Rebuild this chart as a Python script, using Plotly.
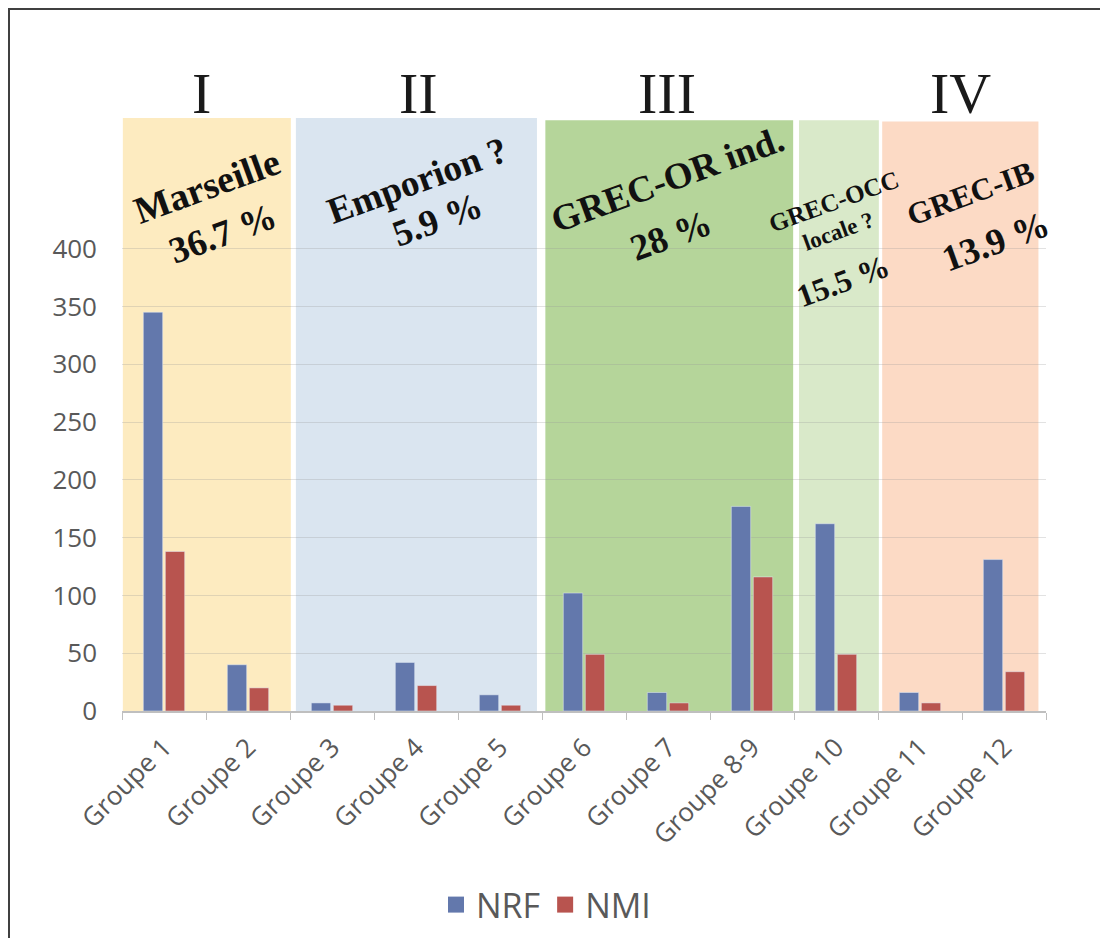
import plotly.graph_objects as go

categories = ["Groupe 1", "Groupe 2", "Groupe 3", "Groupe 4", "Groupe 5", "Groupe 6",
              "Groupe 7", "Groupe 8-9", "Groupe 10", "Groupe 11", "Groupe 12"]
nrf = [345, 40, 7, 42, 14, 102, 16, 177, 162, 16, 131]
nmi = [138, 20, 5, 22, 5, 49, 7, 116, 49, 7, 34]
y_ticks = [0, 50, 100, 150, 200, 250, 300, 350, 400]
series_names = ["NRF", "NMI"]
series_colors = ["#6378AC", "#B8544F"]
zone_numerals = ["I", "II", "III", "IV"]

W, H = 1108, 938
OFF = 8  # page body margin
L, R, T, B = 122, 1046, 118, 711  # plot area in page pixels


def px(x):
    return (x - L) / (R - L)


def py(y):
    return (B - y) / (B - T)


fig = go.Figure()
for name, vals, col in zip(series_names, [nrf, nmi], series_colors):
    fig.add_trace(go.Bar(x=categories, y=vals, name=name, marker_color=col,
                         legendgroup=name, showlegend=False))
# legend entries (larger square swatches)
for name, col in zip(series_names, series_colors):
    fig.add_trace(go.Scatter(x=[None], y=[None], mode="markers", name=name, legendgroup=name,
                             marker=dict(symbol="square", size=20, color=col)))

# coloured zones (category index space)
zones = [(-0.49, 1.51, "#FDEBC0", 513), (1.57, 4.44, "#DAE5F0", 513),
         (4.54, 7.49, "#B5D59A", 511), (7.56, 8.51, "#D9E9C9", 511),
         (8.55, 10.41, "#FCDAC5", 510)]
shapes = []
for x0, x1, c, top in zones:
    shapes.append(dict(type="rect", xref="x", yref="y", x0=x0, x1=x1, y0=0, y1=top,
                       fillcolor=c, line=dict(width=0), layer="below"))
# outer frame
shapes.append(dict(type="rect", xref="paper", yref="paper", x0=px(9), x1=px(1130),
                   y0=py(960), y1=py(9), line=dict(color="#404040", width=2),
                   fillcolor="rgba(0,0,0,0)"))

annotations = []
for txt, x in zip(zone_numerals, [201, 418, 667, 960]):
    annotations.append(dict(text=txt, x=px(x), y=py(93), xref="paper", yref="paper",
                            showarrow=False, xanchor="center", yanchor="middle",
                            font=dict(family="Liberation Serif", size=58, color="#1a1a1a")))

labels = [("Marseille", 207, 186, 38), ("36.7 %", 222, 233, 37),
          ("Emporion ?", 417, 180, 37), ("5.9 %", 437, 219, 37),
          ("GREC-OR ind.", 667, 179, 37), ("28 %", 670, 235, 37),
          ("GREC-OCC", 834, 202, 25), ("locale ?", 838, 232, 23), ("15.5 %", 843, 281, 32),
          ("GREC-IB", 970, 193, 31), ("13.9 %", 995, 241, 37)]
for txt, x, y, s in labels:
    annotations.append(dict(text="<b>" + txt + "</b>", x=px(x), y=py(y), xref="paper", yref="paper",
                            showarrow=False, xanchor="center", yanchor="middle", textangle=-20,
                            font=dict(family="Liberation Serif", size=s, color="#111111")))

fig.update_layout(
    width=W, height=H,
    margin=dict(l=L - OFF, r=W - (R - OFF), t=T - OFF, b=H - (B - OFF), pad=0),
    paper_bgcolor="white", plot_bgcolor="rgba(0,0,0,0)",
    barmode="group", bargap=0.476, bargroupgap=0.12,
    shapes=shapes, annotations=annotations,
    showlegend=True,
    legend=dict(orientation="h", x=px(546), y=py(905), xanchor="center", yanchor="middle",
                font=dict(family="Open Sans", size=34, color="#595959"),
                itemwidth=30, itemsizing="trace", bgcolor="rgba(0,0,0,0)"),
    font=dict(family="Open Sans", color="#595959"),
)
fig.update_xaxes(tickangle=-45, showline=True, linecolor="#BFBFBF", linewidth=1.5,
                 ticks="outside", tickson="boundaries", ticklen=7, tickcolor="#BFBFBF",
                 ticklabelstandoff=9, showgrid=False,
                 tickfont=dict(family="Open Sans", size=26, color="#595959"),
                 range=[-0.5, 10.5])
fig.update_yaxes(range=[0, 513], tickvals=y_ticks, showgrid=True,
                 gridcolor="rgba(150,150,150,0.28)", gridwidth=1, zeroline=False,
                 showline=False, ticks="", ticklabelstandoff=24,
                 tickfont=dict(family="Open Sans", size=26, color="#595959"))

fig.write_html("out.html")
